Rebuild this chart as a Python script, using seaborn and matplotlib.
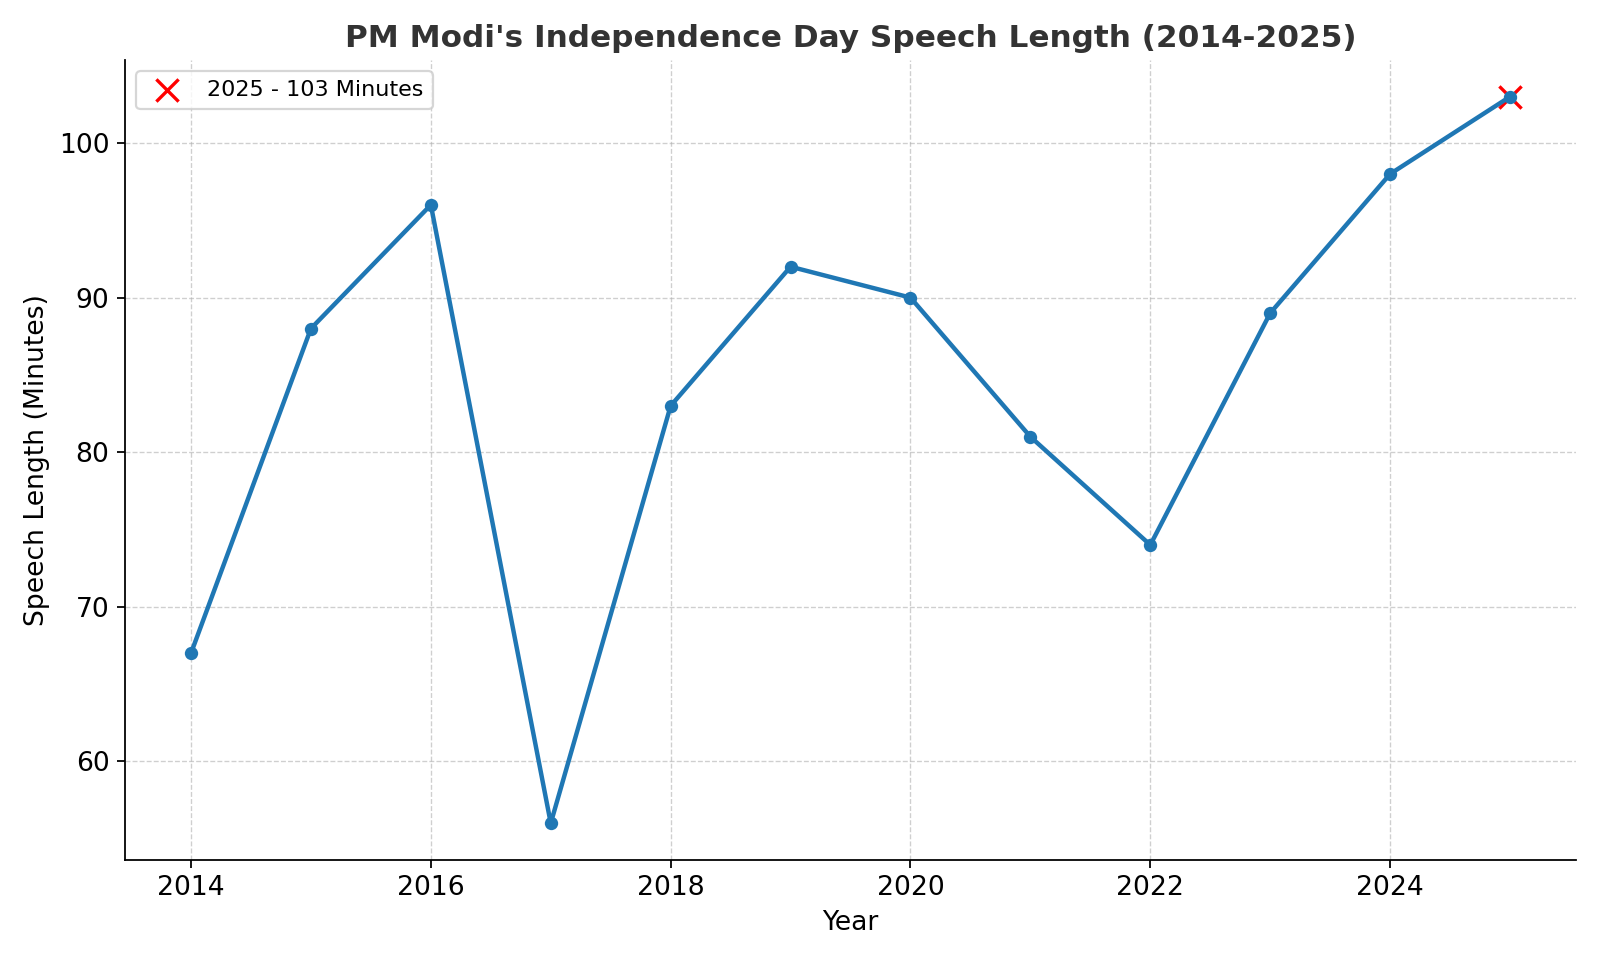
import matplotlib
matplotlib.use("Agg")
import matplotlib.pyplot as plt
import seaborn as sns
import pandas as pd

years = [2014, 2015, 2016, 2017, 2018, 2019, 2020, 2021, 2022, 2023, 2024, 2025]
minutes = [67, 88, 96, 56, 83, 92, 90, 81, 74, 89, 98, 103]
highlight_year = 2025
highlight_value = 103

df = pd.DataFrame({"Year": years, "Minutes": minutes})

fig, ax = plt.subplots(figsize=(10, 6), dpi=160)
sns.lineplot(data=df, x="Year", y="Minutes", ax=ax, color="#1f77b4",
             linewidth=2, marker="o", markersize=6, markeredgewidth=0)
ax.scatter([highlight_year], [highlight_value], color="red", marker="x", s=100,
           zorder=1, label=f"{highlight_year} - {highlight_value} Minutes")

ax.set_title("PM Modi's Independence Day Speech Length (2014-2025)",
             fontsize=14, fontweight="bold", color="#333333")
ax.set_xlabel("Year", fontsize=12)
ax.set_ylabel("Speech Length (Minutes)", fontsize=12)
ax.tick_params(labelsize=12)
ax.grid(True, linestyle="--", linewidth=0.6, alpha=0.6)
sns.despine(ax=ax)
ax.legend(loc="upper left", fontsize=10)
fig.tight_layout()
fig.savefig("out.png")
